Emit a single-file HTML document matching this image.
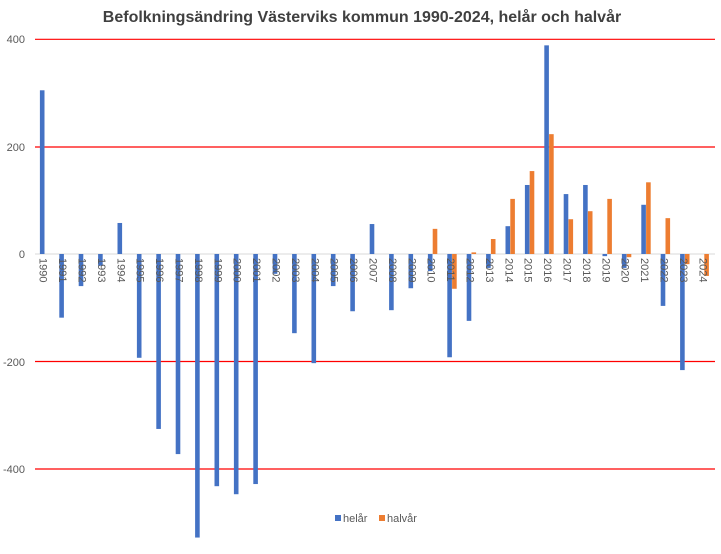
<!DOCTYPE html>
<html><head><meta charset="utf-8"><style>
html,body{margin:0;padding:0;background:#fff;}
svg{display:block;font-family:"Liberation Sans",sans-serif;}
</style></head><body>
<svg width="721" height="554" viewBox="0 0 721 554" xmlns="http://www.w3.org/2000/svg">
<text x="362" y="22" text-anchor="middle" font-size="16" font-weight="bold" fill="#404040">Befolkningsändring Västerviks kommun 1990-2024, helår och halvår</text>
<g stroke="#FF0000" stroke-width="1.2">
<line x1="35" x2="715" y1="39.3" y2="39.3"/>
<line x1="35" x2="715" y1="147" y2="147"/>
<line x1="35" x2="715" y1="361.5" y2="361.5"/>
<line x1="35" x2="715" y1="469" y2="469"/>
</g>
<line x1="35" x2="715" y1="254" y2="254" stroke="#D9D9D9" stroke-width="1"/>
<g font-size="11" fill="#595959" text-anchor="end">
<text x="25" y="43">400</text>
<text x="25" y="151">200</text>
<text x="25" y="258">0</text>
<text x="25" y="366">-200</text>
<text x="25" y="473">-400</text>
</g>
<g id="bars"></g>
<g id="labels" font-size="11" fill="#595959">
<text>1990</text><text>1991</text><text>1992</text><text>1993</text><text>1994</text><text>1995</text><text>1996</text><text>1997</text><text>1998</text><text>1999</text><text>2000</text><text>2001</text><text>2002</text><text>2003</text><text>2004</text><text>2005</text><text>2006</text><text>2007</text><text>2008</text><text>2009</text><text>2010</text><text>2011</text><text>2012</text><text>2013</text><text>2014</text><text>2015</text><text>2016</text><text>2017</text><text>2018</text><text>2019</text><text>2020</text><text>2021</text><text>2022</text><text>2023</text><text>2024</text>
</g>
<rect x="335" y="515" width="6" height="6" fill="#4472C4"/>
<text x="343" y="522" font-size="11" fill="#595959">helår</text>
<rect x="379" y="515" width="6" height="6" fill="#ED7D31"/>
<text x="387" y="522" font-size="11" fill="#595959">halvår</text>
</svg>
<script>
var h=[306,-119,-60,-22,58,-194,-327,-374,-530,-434,-449,-430,-37,-148,-204,-60,-107,56,-105,-64,-32,-193,-125,-26,52,129,390,112,129,-4,-26,92,-97,-217,0];
var o=[null,null,null,null,null,null,null,null,null,null,null,null,null,null,null,null,null,null,null,null,47,-65,3,28,103,155,224,65,80,103,-6,134,67,-19,-41];
var ns="http://www.w3.org/2000/svg",g=document.getElementById("bars"),Z=254,S=0.535,W=19.4;
function bar(x,v,c){if(v==null||v==0)return;var r=document.createElementNS(ns,"rect");var y=v>0?Z-v*S:Z;r.setAttribute("x",x);r.setAttribute("y",y);r.setAttribute("width",4.6);r.setAttribute("height",Math.abs(v)*S);r.setAttribute("fill",c);g.appendChild(r);}
for(var i=0;i<35;i++){var c=35+W*(i+0.5);bar(c-4.8,h[i],"#4472C4");bar(c,o[i],"#ED7D31");}
var ls=document.getElementById("labels").children;
for(var i=0;i<ls.length;i++){var c=35+W*(i+0.5);var x=c-5,y=258;ls[i].setAttribute("transform","translate("+x+","+y+") rotate(90)");}
</script>
</body></html>
